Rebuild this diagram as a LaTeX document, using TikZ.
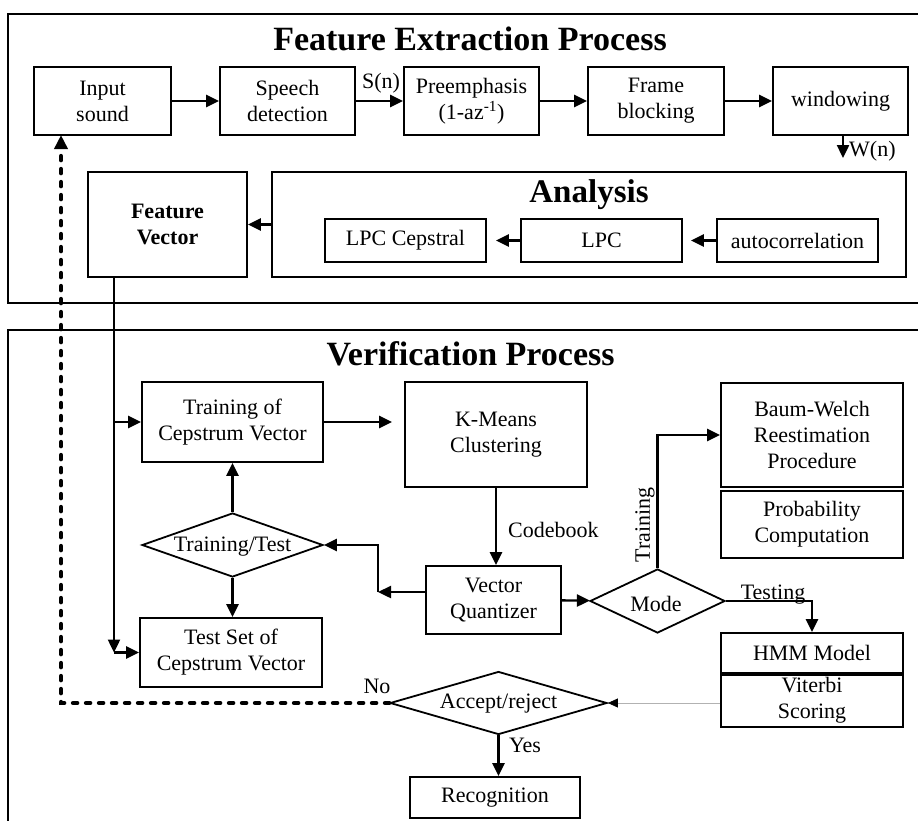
\documentclass[tikz,border=0pt]{standalone}
\usepackage{fontspec}
\setmainfont{Liberation Serif}
\usetikzlibrary{arrows.meta,shapes.geometric}
\begin{document}
\begin{tikzpicture}[x=1pt,y=-1pt,
  box/.style={draw,line width=1.8pt,inner sep=0pt,align=center,font=\fontsize{22}{26}\selectfont},
  dia/.style={draw,diamond,line width=1.8pt,inner sep=0pt},
  txt/.style={font=\fontsize{22}{26}\selectfont,inner sep=0pt,align=center},
  ttl/.style={font=\fontsize{34}{38}\selectfont\bfseries,inner sep=0pt,anchor=base},
  arr/.style={line width=2.4pt,-{Triangle[length=13pt,width=12pt]}},
  frm/.style={line width=2pt},
  fb/.style={line width=4.5pt,line cap=round,dash pattern=on 4pt off 9pt,-{Triangle[length=14pt,width=13pt]}},
  thinarr/.style={line width=0.8pt,draw=gray!60,-{Triangle[length=10pt,width=9pt,color=black]}}
]
\useasboundingbox (0,0) rectangle (918,820);
\clip (0,0) rectangle (918,820);
\fill[white] (0,0) rectangle (918,820);

% frames
\draw[frm] (8,14) rectangle (930,303);
\draw[frm] (8,330) rectangle (930,840);

% titles
\node[ttl] (t1) at (470,50) {Feature Extraction Process};
\node[ttl] (t2) at (470.5,365) {Verification Process};

% top row
\node[box,minimum width=137pt,minimum height=68pt] (in) at (102.5,101) {Input\\sound};
\node[box,minimum width=135pt,minimum height=68pt] (sd) at (287.5,101) {Speech\\detection};
\node[box,minimum width=135pt,minimum height=68pt] (pre) at (471.5,101) {Preemphasis\\(1-az\textsuperscript{-1})};
\node[box,minimum width=136pt,minimum height=68pt] (fbk) at (656,101) {Frame\\blocking};
\node[box,minimum width=135pt,minimum height=68pt] (win) at (840.5,101) {windowing};

\draw[arr] (in) -- (sd);
\draw[arr] (sd) -- (pre);
\node[txt] (sn) at (381,83) {S(n)};
\draw[arr] (pre) -- (fbk);
\draw[arr] (fbk) -- (win);
\coordinate (wn) at (843,158);
\draw[arr] (win.south -| wn) -- (wn);
\node[txt,anchor=west] (wnl) at (849,151) {W(n)};

% analysis
\node[box,minimum width=159pt,minimum height=105pt,font=\fontsize{22}{26}\selectfont\bfseries] (fv) at (167.5,224.5) {Feature\\Vector};
\node[box,minimum width=634pt,minimum height=105pt] (an) at (589,224.5) {};
\node[ttl,font=\fontsize{33}{38}\selectfont\bfseries] (antitle) at (589,202) {Analysis};
\node[box,minimum width=161pt,minimum height=43pt] (lpcc) at (405.5,240.5) {LPC Cepstral};
\node[box,minimum width=161pt,minimum height=43pt] (lpc) at (601.5,240.5) {LPC};
\node[box,minimum width=161pt,minimum height=43pt] (ac) at (797.5,240.5) {autocorrelation};
\draw[arr] (an) -- (fv);
\draw[arr,shorten >=8pt] (ac) -- (lpc);
\draw[arr,shorten >=9pt] (lpc) -- (lpcc);

% verification
\node[box,minimum width=181pt,minimum height=80pt] (tr) at (232.5,422) {Training of\\Cepstrum Vector};
\node[box,minimum width=182pt,minimum height=105pt] (km) at (496,434.5) {K-Means\\Clustering};
\node[dia,minimum width=181pt,minimum height=64pt] (tt) at (232.5,545) {};
\node[txt] (ttt) at (232.5,547) {Training/Test};
\node[box,minimum width=182pt,minimum height=69pt] (ts) at (231,652.5) {Test Set of\\Cepstrum Vector};
\node[box,minimum width=135pt,minimum height=68pt] (vq) at (493.5,600) {Vector\\Quantizer};
\node[dia,minimum width=135pt,minimum height=64pt] (mode) at (657.5,601) {};
\node[txt] (modet) at (656,604) {Mode};
\node[box,minimum width=182pt,minimum height=104pt] (bw) at (812,435) {Baum-Welch\\Reestimation\\Procedure};
\node[box,minimum width=182pt,minimum height=67pt] (pc) at (812,524.5) {Probability\\Computation};
\node[box,minimum width=182pt,minimum height=40pt] (hmm) at (812,653) {HMM Model};
\node[box,minimum width=182pt,minimum height=54pt] (vit) at (812,700) {Viterbi\\Scoring};
\draw[line width=4pt] (hmm.south west) -- (hmm.south east);
\node[dia,minimum width=217pt,minimum height=63pt] (ar) at (498.5,703) {};
\node[txt] (art) at (498.5,704) {Accept/reject};
\node[box,minimum width=170pt,minimum height=41pt] (rec) at (495,797.5) {Recognition};

% feature vector feed
\coordinate (fvb) at (114,277);
\draw[arr] (fvb) |- (tr.west);
\draw[arr] (fvb) -- (fvb |- ts.west);
\draw[arr] (fvb |- ts.west) -- (ts.west);

\draw[arr,shorten >=12pt] (tr.east) -- (tr.east -| km.west);
\draw[arr] (tt.north) -- (tr.south);
\draw[arr] (tt.south) -- (tt.south |- ts.north);
\draw[arr] (km.south) -- (km.south |- vq.north);
\node[txt,anchor=west] (cb) at (508,530) {Codebook};
\coordinate (vqc) at (378,592);
\draw[arr] (vq.west |- vqc) -- (vqc);
\draw[arr] (vqc) |- (tt.east);
\draw[arr] (vq) -- (mode);
\draw[arr] (mode.north) |- (bw.west);
\node[txt,rotate=90] (trl) at (645,525) {Training};
\draw[arr] (mode.east) -| (hmm.north);
\node[txt,anchor=base] (tsl) at (773,599) {Testing};
\draw[thinarr] (vit.west |- ar.east) -- (ar.east);
\draw[arr] (ar.south) -- (ar.south |- rec.north);
\node[txt] (yes) at (525,745) {Yes};
\node[txt] (no) at (377,686) {No};
\coordinate (inb) at (61,135);
\draw[fb] (ar.west) -| (inb);
\end{tikzpicture}
\end{document}
